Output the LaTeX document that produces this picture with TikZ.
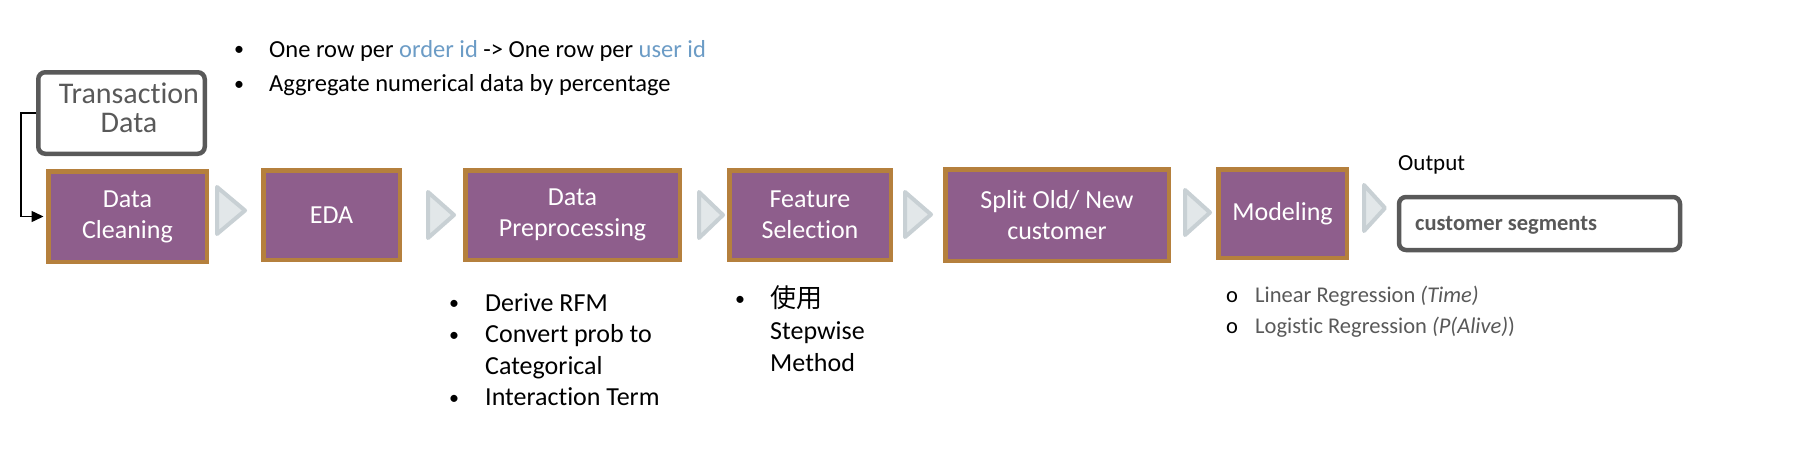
\documentclass[tikz,border=0pt]{standalone}
\usepackage{fontspec}
\setmainfont{Carlito}[Ligatures={NoCommon}]
\newfontfamily\cjkfont{Noto Sans CJK TC}
\usetikzlibrary{arrows.meta}
\definecolor{procfill}{HTML}{8E5E8C}
\definecolor{procborder}{HTML}{B5803D}
\definecolor{chevfill}{HTML}{E2E7E9}
\definecolor{chevborder}{HTML}{C8D0D4}
\definecolor{dgray}{HTML}{595959}
\definecolor{idblue}{HTML}{6C9CC6}
\newcommand{\chevshape}[4]{\draw[chev] (#1+2,#3+2) -- (#2-2,{(#3+#4)/2}) -- (#1+2,#4-2) -- cycle;}
\newcommand{\smallbul}{\raisebox{1.5pt}{\fontsize{20}{20}\selectfont •}}
\begin{document}
\begin{tikzpicture}[x=1pt,y=-1pt,
  proc/.style={draw=procborder, fill=procfill, line width=4.5pt, text=white,
    font=\fontsize{26}{31}\selectfont, align=center, inner sep=0pt},
  graybox/.style={draw=dgray, line width=4.5pt, rounded corners=7pt, inner sep=0pt},
  chev/.style={draw=chevborder, fill=chevfill, line width=4pt, line join=round},
  bul/.style={anchor=base west, inner sep=0pt, align=left}]
\fill[white] (0,0) rectangle (1806,452);
\useasboundingbox (0,0) rectangle (1806,452);

% process boxes
\node[proc, minimum width=158.5pt, minimum height=90.5pt] (dc) at (127.5,216.5) {Data\\Cleaning};
\node[proc, minimum width=136.5pt, minimum height=89.5pt] (eda) at (331.5,215) {EDA};
\node[proc, minimum width=214.5pt, minimum height=89.5pt] (dp) at (572.5,215) {Data\\Preprocessing};
\node[proc, minimum width=161.5pt, minimum height=89.5pt] (fs) at (810,215) {Feature\\Selection};
\node[proc, minimum width=223.5pt, minimum height=91.5pt] (sp) at (1057,215) {Split Old/ New\\customer};
\node[proc, minimum width=128.5pt, minimum height=88.5pt] (mo) at (1282.5,213.5) {Modeling};

% transaction data
\node[graybox, minimum width=166.5pt, minimum height=81.5pt] (tx) at (121.5,113) {};
\node[text=dgray, font=\fontsize{30}{29}\selectfont, align=center, inner sep=0pt] (txt) at (129,108) {Transaction\\Data};
\draw[line width=1.5pt, -{Triangle[length=12pt,width=11pt]}, shorten >=2.5pt] (tx.west) -- ++(-15,0) |- (dc.west);

% output
\node[anchor=base west, inner sep=0pt, font=\fontsize{23}{27}\selectfont] (outlbl) at (1398,170) {Output};
\node[graybox, minimum width=281pt, minimum height=53pt] (out) at (1539.5,223.5) {};
\node[anchor=base west, inner sep=0pt, text=dgray, font=\bfseries\fontsize{22.5}{27}\selectfont] (outtxt) at (1415,230) {customer segments};

% chevrons
\chevshape{215}{247}{185}{236}
\chevshape{426}{456}{190}{240}
\chevshape{697}{725}{190}{240}
\chevshape{903}{933}{190}{239}
\chevshape{1183}{1212}{188}{237}
\chevshape{1362}{1387}{183}{233}

% bullet lists
\node[bul, font=\fontsize{24.5}{35}\selectfont] (toplist) at (234,57) {\begin{tabular}[t]{@{}p{35pt}@{}l@{}}
\smallbul& One row per \textcolor{idblue}{order id} -> One row per \textcolor{idblue}{user id}\\
\smallbul& Aggregate numerical data by percentage
\end{tabular}};

\node[bul, font=\fontsize{26}{31.5}\selectfont] (dplist) at (449,311) {\begin{tabular}[t]{@{}p{36pt}@{}l@{}}
\smallbul& Derive RFM\\
\smallbul& Convert prob to\\
 & Categorical\\
\smallbul& Interaction Term
\end{tabular}};

\node[bul, font=\fontsize{26}{32}\selectfont] (fslist) at (735,307) {\begin{tabular}[t]{@{}p{35pt}@{}l@{}}
\smallbul& {\cjkfont 使用}\\
 & Stepwise\\
 & Method
\end{tabular}};

\node[bul, font=\fontsize{22.5}{31}\selectfont] (molist) at (1226,302) {\begin{tabular}[t]{@{}p{29pt}@{}l@{}}
o& \textcolor{dgray}{Linear Regression \textit{(Time)}}\\
o& \textcolor{dgray}{Logistic Regression \textit{(P(Alive)})}
\end{tabular}};
\end{tikzpicture}
\end{document}
